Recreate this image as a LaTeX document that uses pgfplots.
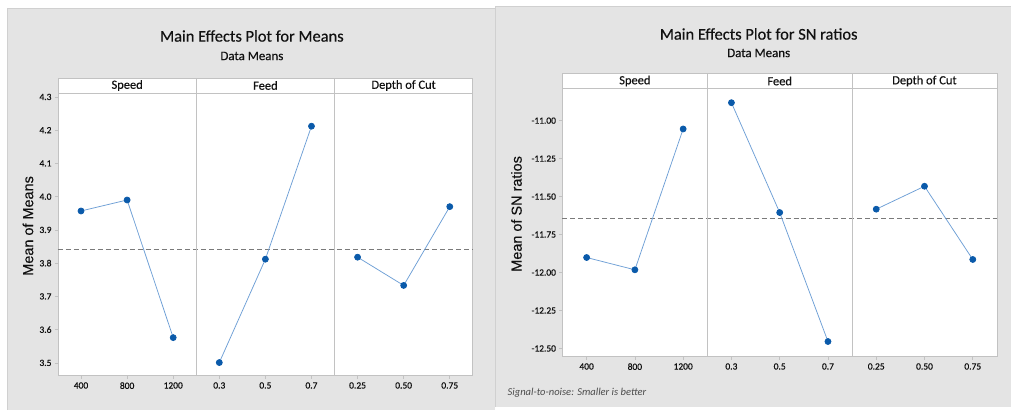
\documentclass[border=0pt]{standalone}
\usepackage{pgfplots}
\pgfplotsset{compat=1.18}
\usepackage{fontspec}
\setmainfont{Carlito}
\newfontfamily\arialf[FakeBold=0.3]{Liberation Sans}
\newfontfamily\tickf[FakeBold=0.6]{Carlito}
\newfontfamily\headf[FakeBold=0.3]{Carlito}
\definecolor{bggray}{HTML}{E4E4E4}
\definecolor{edge}{HTML}{D0D0D0}
\definecolor{framec}{HTML}{C2C2C2}
\definecolor{markc}{HTML}{0A5AAA}
\definecolor{linec}{HTML}{6E9FD6}
\definecolor{txt}{HTML}{111111}
\definecolor{refc}{HTML}{7A7A7A}

\pgfplotsset{
  me/.style={
    scale only axis, anchor=south west, clip=false,
    xmin=0, xmax=9,
    tick pos=left, tick align=outside, major tick length=3bp,
    axis line style={framec, line width=0.8pt},
    tick style={framec, line width=0.7pt},
    xtick={0.5,1.5,2.5,3.5,4.5,5.5,6.5,7.5,8.5},
    ticklabel style={font=\tickf\fontsize{9.5}{11}\selectfont, text=txt},
    axis background/.style={fill=white},
  },
  dat/.style={linec, line width=0.75pt, mark=*, mark size=3bp, mark options={fill=markc, draw=markc}},
  refl/.style={refc, line width=0.8pt, dash pattern=on 5pt off 3pt},
}

\begin{document}
\begin{tikzpicture}
\fill[white] (0,0) rectangle (1011bp,410bp);
% panels backgrounds
\fill[bggray] (7bp,0bp) rectangle (495bp,402bp);
\draw[edge, line width=0.8pt] (7bp,0bp) -- (7bp,402bp) -- (495bp,402bp);
\fill[bggray] (496bp,3bp) rectangle (1011bp,404bp);
\draw[edge, line width=0.8pt] (496bp,3bp) -- (496bp,404bp) -- (1011bp,404bp);

% ---------------- Left chart ----------------
\begin{axis}[me,
  at={(58bp,34bp)}, width=415bp, height=283bp,
  ymin=3.461, ymax=4.312,
  ytick={3.5,3.6,3.7,3.8,3.9,4.0,4.1,4.2,4.3},
  yticklabels={3.5,3.6,3.7,3.8,3.9,4.0,4.1,4.2,4.3},
  xticklabels={400,800,1200,0.3,0.5,0.7,0.25,0.50,0.75},
]
\addplot[refl, forget plot] coordinates {(0,3.841) (9,3.841)};
\addplot[dat] coordinates {(0.5,3.957) (1.5,3.990) (2.5,3.576)};
\addplot[dat] coordinates {(3.5,3.501) (4.5,3.812) (5.5,4.212)};
\addplot[dat] coordinates {(6.5,3.818) (7.5,3.733) (8.5,3.970)};
\end{axis}
\draw[framec, line width=0.8pt, fill=white] (58bp,317bp) rectangle (473bp,332bp);
\draw[framec, line width=0.8pt] (196.3bp,34bp) -- (196.3bp,332bp);
\draw[framec, line width=0.8pt] (334.7bp,34bp) -- (334.7bp,332bp);
\node[text=txt, font=\headf\fontsize{12.5}{14}\selectfont] at (127.2bp,324.5bp) {Speed};
\node[text=txt, font=\headf\fontsize{12.5}{14}\selectfont] at (265.5bp,324.5bp) {Feed};
\node[text=txt, font=\headf\fontsize{12.5}{14}\selectfont] at (403.8bp,324.5bp) {Depth of Cut};
\node[text=txt, font=\headf\fontsize{16.5}{18}\selectfont] at (252bp,374bp) {Main Effects Plot for Means};
\node[text=txt, font=\headf\fontsize{13}{14}\selectfont] at (252bp,354bp) {Data Means};
\node[text=txt, rotate=90, font=\arialf\fontsize{14.5}{16}\selectfont] at (28bp,184bp) {Mean of Means};

% ---------------- Right chart ----------------
\begin{axis}[me,
  at={(562.7bp,53bp)}, width=434.6bp, height=268.7bp,
  ymin=-12.555, ymax=-10.787,
  ytick={-12.5,-12.25,-12,-11.75,-11.5,-11.25,-11},
  yticklabels={-12.50,-12.25,-12.00,-11.75,-11.50,-11.25,-11.00},
  xticklabels={400,800,1200,0.3,0.5,0.7,0.25,0.50,0.75},
]
\addplot[refl, forget plot] coordinates {(0,-11.645) (9,-11.645)};
\addplot[dat] coordinates {(0.5,-11.901) (1.5,-11.982) (2.5,-11.055)};
\addplot[dat] coordinates {(3.5,-10.882) (4.5,-11.605) (5.5,-12.454)};
\addplot[dat] coordinates {(6.5,-11.583) (7.5,-11.432) (8.5,-11.914)};
\end{axis}
\draw[framec, line width=0.8pt, fill=white] (562.7bp,321.7bp) rectangle (997.3bp,336.3bp);
\draw[framec, line width=0.8pt] (707.6bp,53bp) -- (707.6bp,336.3bp);
\draw[framec, line width=0.8pt] (852.4bp,53bp) -- (852.4bp,336.3bp);
\node[text=txt, font=\headf\fontsize{12.5}{14}\selectfont] at (635.1bp,329bp) {Speed};
\node[text=txt, font=\headf\fontsize{12.5}{14}\selectfont] at (780bp,329bp) {Feed};
\node[text=txt, font=\headf\fontsize{12.5}{14}\selectfont] at (924.8bp,329bp) {Depth of Cut};
\node[text=txt, font=\headf\fontsize{16.5}{18}\selectfont] at (759bp,376bp) {Main Effects Plot for SN ratios};
\node[text=txt, font=\headf\fontsize{13}{14}\selectfont] at (759bp,357bp) {Data Means};
\node[text=txt, rotate=90, font=\arialf\fontsize{14.5}{16}\selectfont] at (516.7bp,196bp) {Mean of SN ratios};
\node[text=black!70, anchor=west, inner sep=0pt, font=\itshape\fontsize{10.6}{12}\selectfont] at (507.7bp,17bp) {Signal-to-noise: Smaller is better};
\end{tikzpicture}
\end{document}
